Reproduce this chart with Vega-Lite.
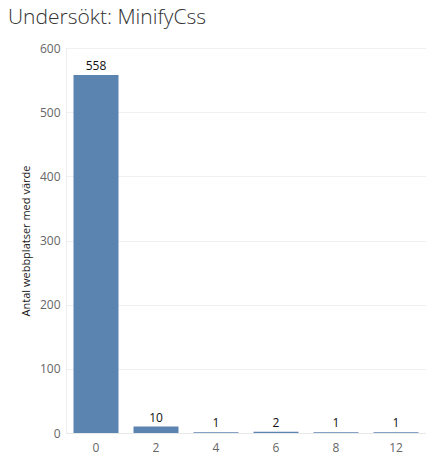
{
  "$schema": "https://vega.github.io/schema/vega-lite/v6.json",
  "autosize": "none",
  "width": 360,
  "height": 385,
  "padding": {"left": 66, "top": 48, "right": 0, "bottom": 23},
  "background": "white",
  "title": {
    "text": "Undersökt: MinifyCss",
    "anchor": "start",
    "frame": "group",
    "dx": -58,
    "offset": 14,
    "fontSize": 21,
    "font": "Open Sans",
    "fontWeight": 300,
    "color": "#333333"
  },
  "data": {
    "values": [
      {"varde": "0", "antal": 558},
      {"varde": "2", "antal": 10},
      {"varde": "4", "antal": 1},
      {"varde": "6", "antal": 2},
      {"varde": "8", "antal": 1},
      {"varde": "12", "antal": 1}
    ]
  },
  "encoding": {
    "x": {
      "field": "varde",
      "type": "ordinal",
      "sort": null,
      "scale": {"paddingInner": 0.25, "paddingOuter": 0.125},
      "axis": {
        "title": null,
        "labelAngle": 0,
        "labelColor": "#666666",
        "labelFontSize": 12,
        "labelFont": "Open Sans",
        "labelPadding": 9,
        "ticks": false,
        "domainColor": "#e8e8e8"
      }
    },
    "y": {
      "field": "antal",
      "type": "quantitative",
      "scale": {"domain": [0, 600]},
      "axis": {
        "title": "Antal webbplatser med värde",
        "titleFontSize": 11,
        "titleFont": "Open Sans",
        "titleFontWeight": "normal",
        "titleColor": "#222222",
        "titlePadding": 8,
        "values": [0, 100, 200, 300, 400, 500, 600],
        "labelColor": "#666666",
        "labelFontSize": 12,
        "labelFont": "Open Sans",
        "labelPadding": 6,
        "ticks": false,
        "domainColor": "#eeeeee",
        "gridColor": "#f0f0f0"
      }
    }
  },
  "layer": [
    {"mark": {"type": "bar", "color": "#5b84b0"}},
    {
      "mark": {"type": "text", "dy": -9, "fontSize": 12, "font": "Open Sans", "color": "#111111"},
      "encoding": {"text": {"field": "antal", "type": "quantitative"}}
    }
  ]
}
